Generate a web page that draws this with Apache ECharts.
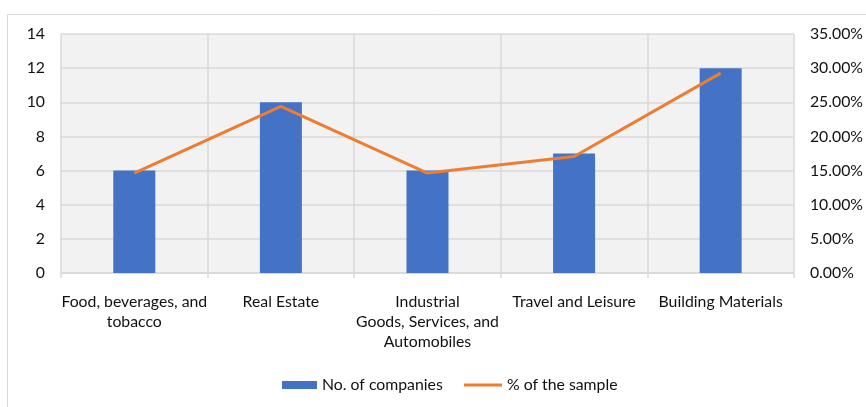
<!DOCTYPE html>
<html><head><meta charset="utf-8">
<script src="https://cdn.jsdelivr.net/npm/echarts@6/dist/echarts.min.js"></script>
<style>html,body{margin:0;padding:0;background:#fff}#c{width:866px;height:407px}</style>
</head><body><div id="c"></div>
<script>
const categories = ['Food, beverages, and\ntobacco', 'Real Estate', 'Industrial\nGoods, Services, and\nAutomobiles', 'Travel and Leisure', 'Building Materials'];
const companies = [6, 10, 6, 7, 12];
const samplePct = [14.63, 24.39, 14.63, 17.07, 29.27];
const leftTicks = {min: 0, max: 14, interval: 2};
const rightTicks = {min: 0, max: 35, interval: 5};

const font = 'Lato, "Open Sans", sans-serif';
const fs = 15.8;
const txt = '#111';
const chart = echarts.init(document.getElementById('c'));
chart.setOption({
  animation: false,
  backgroundColor: '#fff',
  textStyle: {fontFamily: font},
  graphic: [{type: 'rect', shape: {x: 7.5, y: 14.5, width: 900, height: 500}, style: {fill: 'none', stroke: '#d9d9d9', lineWidth: 1}, silent: true, z: -10}],
  grid: {left: 61, right: 71, top: 34, bottom: 134, show: true, backgroundColor: '#f2f2f2', borderWidth: 0},
  legend: [
    {data: ['No. of companies'], left: 282, top: 377, padding: 0, itemWidth: 35, itemHeight: 8, itemGap: 4,
     textStyle: {fontFamily: font, fontSize: fs, color: txt}, icon: 'rect'},
    {data: ['% of the sample'], left: 464, top: 377, padding: 0, itemWidth: 38, itemHeight: 3, itemGap: 4,
     textStyle: {fontFamily: font, fontSize: fs, color: txt}, icon: 'path://M0,0H38V3H0Z'}
  ],
  xAxis: {
    type: 'category', data: categories, boundaryGap: true,
    axisLine: {show: true, lineStyle: {color: '#d9d9d9', width: 1.5}},
    axisTick: {show: true, length: 5, lineStyle: {color: '#d9d9d9', width: 1.5}},
    splitLine: {show: true, lineStyle: {color: '#d9d9d9', width: 1.5}},
    axisLabel: {interval: 0, margin: 19, fontSize: fs, lineHeight: 20, color: txt, fontFamily: font}
  },
  yAxis: [
    {type: 'value', min: leftTicks.min, max: leftTicks.max, interval: leftTicks.interval,
     axisLine: {show: false}, axisTick: {show: false},
     splitLine: {show: true, lineStyle: {color: '#d9d9d9', width: 1.5}},
     axisLabel: {margin: 16, fontSize: fs, color: txt, fontFamily: font}},
    {type: 'value', min: rightTicks.min, max: rightTicks.max, interval: rightTicks.interval, position: 'right',
     axisLine: {show: false}, axisTick: {show: false}, splitLine: {show: false},
     axisLabel: {margin: 16, fontSize: fs, color: txt, fontFamily: font, formatter: v => v.toFixed(2) + '%'}}
  ],
  series: [
    {name: 'No. of companies', type: 'bar', data: companies, barWidth: 42, yAxisIndex: 0,
     itemStyle: {color: '#4472c4'}},
    {name: '% of the sample', type: 'line', data: samplePct, yAxisIndex: 1, symbol: 'none',
     lineStyle: {color: '#ed7d31', width: 3}, itemStyle: {color: '#ed7d31'}, z: 5}
  ]
});
</script></body></html>
